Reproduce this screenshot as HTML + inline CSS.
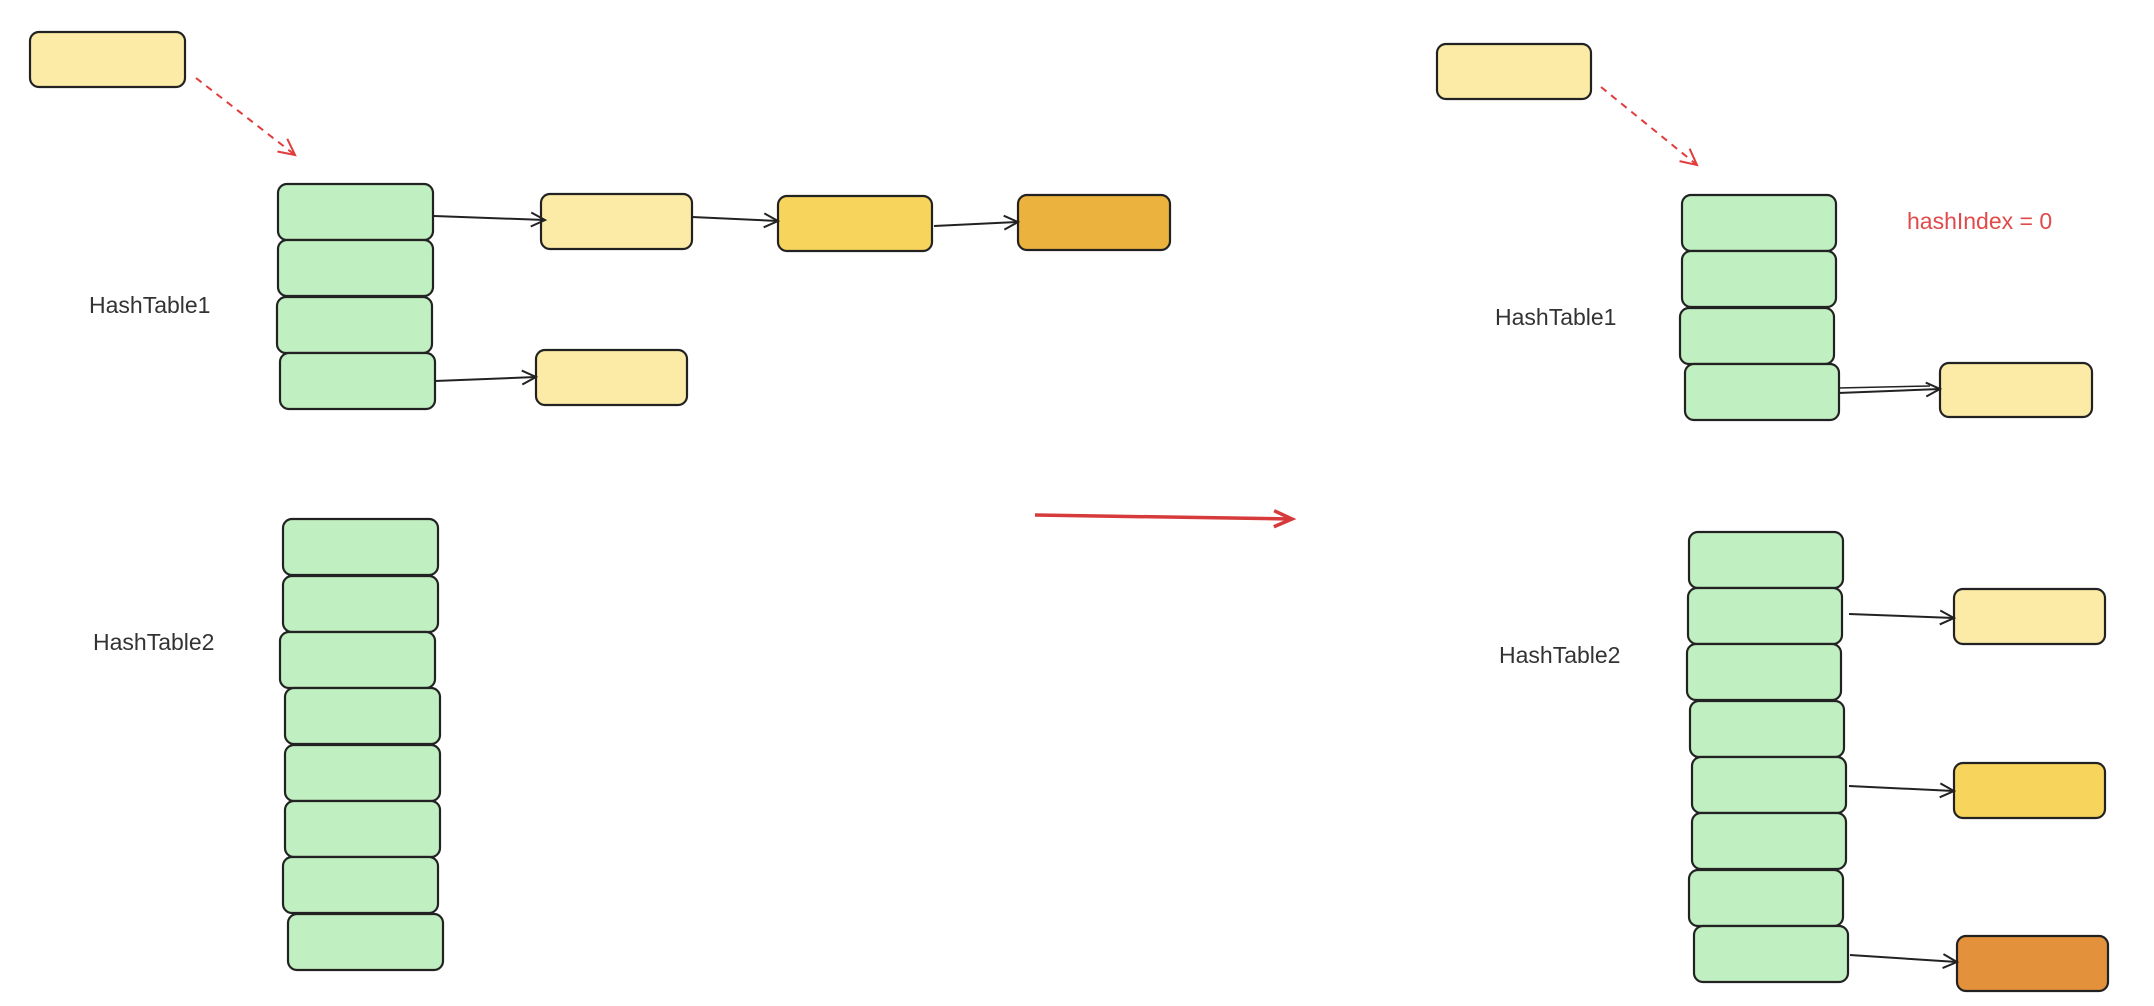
<!DOCTYPE html>
<html><head><meta charset="utf-8"><style>
html,body{margin:0;padding:0;background:#fff;width:2154px;height:1006px;overflow:hidden}
svg{display:block}
text{font-family:"Liberation Sans",sans-serif}
</style></head><body>
<svg width="2154" height="1006" viewBox="0 0 2154 1006" xmlns="http://www.w3.org/2000/svg">
<defs>
<marker id="ak" markerWidth="20" markerHeight="20" refX="16" refY="8" orient="auto" markerUnits="userSpaceOnUse"><path d="M2,1 L16,8 L2,15" fill="none" stroke="#222" stroke-width="2"/></marker>
<marker id="ar" markerWidth="22" markerHeight="22" refX="18" refY="9" orient="auto" markerUnits="userSpaceOnUse"><path d="M2,1 L18,9 L2,17" fill="none" stroke="#e03c3c" stroke-width="2"/></marker>
<marker id="ar2" markerWidth="24" markerHeight="24" refX="20" refY="10" orient="auto" markerUnits="userSpaceOnUse"><path d="M2,2 L20,10 L2,18" fill="none" stroke="#d63a3a" stroke-width="3.5"/></marker>
</defs>
<g stroke="#222" stroke-width="2.2">
<rect x="30" y="32" width="155" height="55" rx="9" fill="#fcebA6"/>
<g fill="#c0efc2">
<rect x="278" y="184" width="155" height="56" rx="9"/>
<rect x="278" y="240" width="155" height="56" rx="9"/>
<rect x="277" y="297" width="155" height="56" rx="9"/>
<rect x="280" y="353" width="155" height="56" rx="9"/>
<rect x="283" y="519" width="155" height="56" rx="9"/>
<rect x="283" y="576" width="155" height="56" rx="9"/>
<rect x="280" y="632" width="155" height="56" rx="9"/>
<rect x="285" y="688" width="155" height="56" rx="9"/>
<rect x="285" y="745" width="155" height="56" rx="9"/>
<rect x="285" y="801" width="155" height="56" rx="9"/>
<rect x="283" y="857" width="155" height="56" rx="9"/>
<rect x="288" y="914" width="155" height="56" rx="9"/>
</g>
<rect x="541" y="194" width="151" height="55" rx="9" fill="#fcebA6"/>
<rect x="778" y="196" width="154" height="55" rx="9" fill="#f7d55c"/>
<rect x="1018" y="195" width="152" height="55" rx="9" fill="#ecb23e"/>
<rect x="536" y="350" width="151" height="55" rx="9" fill="#fcebA6"/>
<rect x="1437" y="44" width="154" height="55" rx="9" fill="#fcebA6"/>
<g fill="#c0efc2">
<rect x="1682" y="195" width="154" height="56" rx="9"/>
<rect x="1682" y="251" width="154" height="56" rx="9"/>
<rect x="1680" y="308" width="154" height="56" rx="9"/>
<rect x="1685" y="364" width="154" height="56" rx="9"/>
<rect x="1689" y="532" width="154" height="56" rx="9"/>
<rect x="1688" y="588" width="154" height="56" rx="9"/>
<rect x="1687" y="644" width="154" height="56" rx="9"/>
<rect x="1690" y="701" width="154" height="56" rx="9"/>
<rect x="1692" y="757" width="154" height="56" rx="9"/>
<rect x="1692" y="813" width="154" height="56" rx="9"/>
<rect x="1689" y="870" width="154" height="56" rx="9"/>
<rect x="1694" y="926" width="154" height="56" rx="9"/>
</g>
<rect x="1940" y="363" width="152" height="54" rx="9" fill="#fcebA6"/>
<rect x="1954" y="589" width="151" height="55" rx="9" fill="#fcebA6"/>
<rect x="1954" y="763" width="151" height="55" rx="9" fill="#f7d55c"/>
<rect x="1957" y="936" width="151" height="55" rx="9" fill="#e3913a"/>
</g>
<g stroke="#222" stroke-width="2" fill="none" marker-end="url(#ak)">
<path d="M434,216 L545,220"/>
<path d="M692,217 L778,221"/>
<path d="M934,226 L1018,222"/>
<path d="M435,381 L536,377"/>
<path d="M1838,393 L1940,389"/>
<path d="M1849,614 L1954,618"/>
<path d="M1849,786 L1954,791"/>
<path d="M1850,955 L1957,962"/>
</g>
<path d="M1838,388 L1930,386" stroke="#222" stroke-width="1.5" fill="none"/>
<g stroke="#e03c3c" stroke-width="2" fill="none" stroke-dasharray="7,6" marker-end="url(#ar)">
<path d="M196,78 L295,155"/>
<path d="M1601,87 L1697,165"/>
</g>
<path d="M1035,515 L1292,519" stroke="#d63a3a" stroke-width="3.5" fill="none" marker-end="url(#ar2)"/>
<g fill="#333" font-size="23">
<text x="89" y="313">HashTable1</text>
<text x="93" y="650">HashTable2</text>
<text x="1495" y="325">HashTable1</text>
<text x="1499" y="663">HashTable2</text>
</g>
<text x="1907" y="229" fill="#e04a4a" font-size="23">hashIndex = 0</text>
</svg>
</body></html>
